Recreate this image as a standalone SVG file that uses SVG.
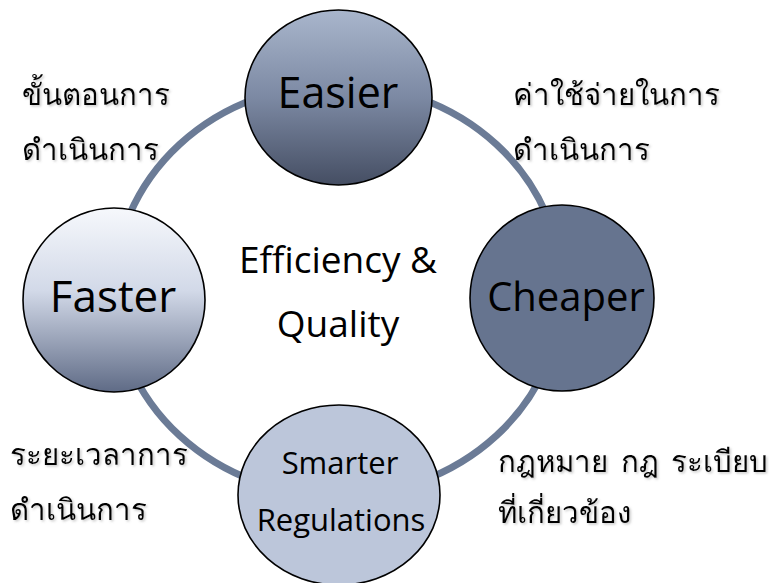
<svg xmlns="http://www.w3.org/2000/svg" width="780" height="583" viewBox="0 0 780 583">
<defs>
<linearGradient id="gEasier" x1="0" y1="0" x2="0" y2="1">
<stop offset="0" stop-color="#a9b6cc"/>
<stop offset="0.5" stop-color="#7c89a3"/>
<stop offset="1" stop-color="#454e63"/>
</linearGradient>
<linearGradient id="gFaster" x1="0" y1="0" x2="0" y2="1">
<stop offset="0" stop-color="#f6f8fc"/>
<stop offset="0.45" stop-color="#d2d9e8"/>
<stop offset="1" stop-color="#5f6b86"/>
</linearGradient>
<filter id="shadow" x="-10%" y="-20%" width="120%" height="140%">
<feDropShadow dx="1.5" dy="1.5" stdDeviation="1" flood-color="#808080" flood-opacity="0.45"/>
</filter>
<style>
.node{stroke:#000;stroke-width:1.6}
.lbl{font-family:"Open Sans","Noto Sans","DejaVu Sans",sans-serif;fill:#000;text-anchor:middle}
.th{font-family:"Noto Sans","DejaVu Sans",Tahoma,sans-serif;font-size:29.5px;fill:#000;filter:url(#shadow)}
.ring{fill:none;stroke:#6b7b96;stroke-width:7}
</style>
</defs>
<rect width="780" height="583" fill="#fff"/>
<g id="connectors">
<ellipse class="ring" cx="338" cy="290" rx="224" ry="206"/>
</g>
<g id="center">
<rect x="218" y="228" width="242" height="130" fill="#fff"/>
<text class="lbl" x="338" y="273" font-size="37">Efficiency &amp;</text>
<text class="lbl" x="338" y="337" font-size="37">Quality</text>
</g>
<g id="easier">
<ellipse class="node" cx="338.5" cy="97.5" rx="93.5" ry="87.5" fill="url(#gEasier)"/>
<text class="lbl" x="338" y="108" font-size="43">Easier</text>
</g>
<g id="faster">
<ellipse class="node" cx="114" cy="300" rx="91" ry="92" fill="url(#gFaster)"/>
<text class="lbl" x="113" y="312" font-size="44">Faster</text>
</g>
<g id="cheaper">
<ellipse class="node" cx="562" cy="298" rx="92" ry="93" fill="#66748f"/>
<text class="lbl" x="566" y="311" font-size="40">Cheaper</text>
</g>
<g id="smarter">
<ellipse class="node" cx="339" cy="495" rx="101" ry="90" fill="#bcc6da"/>
<text class="lbl" x="340" y="474" font-size="31">Smarter</text>
<text class="lbl" x="341" y="531" font-size="31">Regulations</text>
</g>
<g id="notes">
<text class="th" x="22" y="105">ขั้นตอนการ</text>
<text class="th" x="22" y="160">ดำเนินการ</text>
<text class="th" x="513" y="105">ค่าใช้จ่ายในการ</text>
<text class="th" x="513" y="160">ดำเนินการ</text>
<text class="th" x="10" y="465">ระยะเวลาการ</text>
<text class="th" x="10" y="520">ดำเนินการ</text>
<text class="th" x="498" y="472" word-spacing="5">กฎหมาย กฎ ระเบียบ</text>
<text class="th" x="498" y="523">ที่เกี่ยวข้อง</text>
</g>
</svg>
